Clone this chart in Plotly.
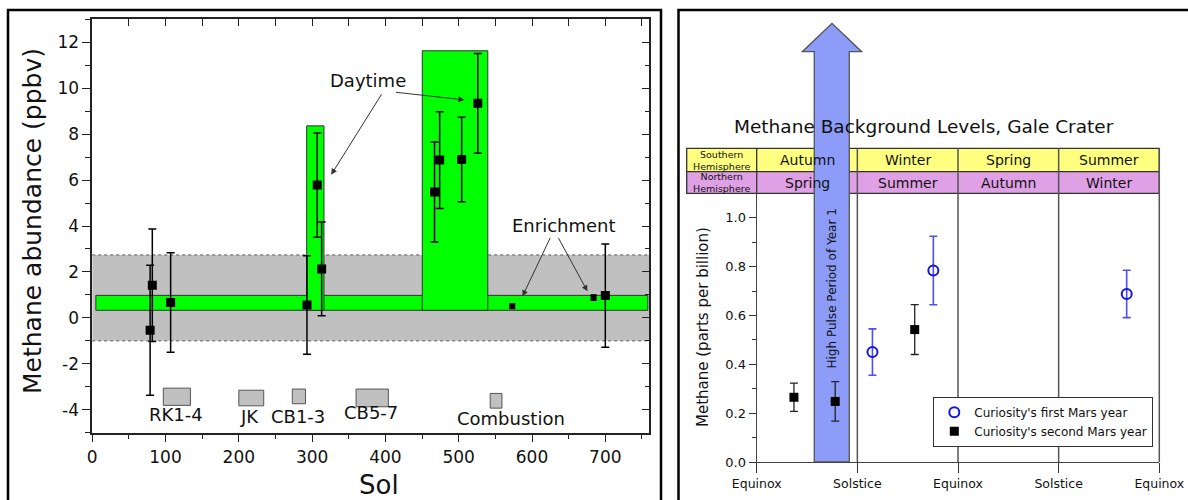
import plotly.graph_objects as go

W, H = 1188, 500
FONT = "DejaVu Sans"

# ---------------- Left panel: methane abundance vs. sol ----------------
sol = [79, 82, 107, 293, 307, 313, 467, 474, 504, 526, 700]
ppbv = [-0.54, 1.42, 0.67, 0.56, 5.78, 2.13, 5.48, 6.87, 6.90, 9.34, 0.97]
ppbv_err = [2.83, 2.45, 2.17, 2.14, 2.27, 2.04, 2.18, 2.11, 1.84, 2.17, 2.25]

enrich_sol = [573, 684]
enrich_ppbv = [0.51, 0.88]
enrich_err = [0.10, 0.12]

background_range = [-1.0, 2.74]
mean_level = [0.33, 0.98]
mean_sols = [5, 758]
spike_sols = [[292.6, 316.2], [450.3, 539.7]]
spike_tops = [8.36, 11.63]

activity_names = ["RK1-4", "JK", "CB1-3", "CB5-7", "Combustion"]
activity_sols = [[97, 134], [200, 234], [273, 291], [360, 404], [543, 559]]
activity_levels = [[-3.81, -3.06], [-3.83, -3.15], [-3.74, -3.10],
                   [-3.87, -3.10], [-3.93, -3.29]]

ppbv_ticks = [-4, -2, 0, 2, 4, 6, 8, 10, 12]

# ---------------- Right panel: seasonal background levels ----------------
seasons_south = ["Autumn", "Winter", "Spring", "Summer"]
seasons_north = ["Spring", "Summer", "Autumn", "Winter"]
boundary_labels = ["Equinox", "Solstice", "Equinox", "Solstice", "Equinox"]

year1_pos = [1.15, 1.755, 3.676]
year1_ppb = [0.450, 0.784, 0.688]
year1_err = [0.095, 0.140, 0.097]

year2_pos = [0.37, 0.78, 1.57]
year2_ppb = [0.265, 0.248, 0.542]
year2_err = [0.058, 0.081, 0.102]


def px(x):
    return x / W


def py(y):
    return 1 - y / H


X1 = [px(92.2), px(649.3)]
Y1 = [py(432.7), py(19.3)]
X2 = [px(756.7), px(1159.3)]
Y2 = [py(462), py(193.3)]


def season_x(s):
    return X2[0] + s * (X2[1] - X2[0]) / 4


fig = go.Figure()

# left panel data
fig.add_trace(go.Scatter(
    x=sol, y=ppbv, mode="markers", showlegend=False,
    marker=dict(symbol="square", size=9, color="black"),
    error_y=dict(type="data", array=ppbv_err, color="black", thickness=1.5, width=4),
    xaxis="x", yaxis="y"))
fig.add_trace(go.Scatter(
    x=enrich_sol, y=enrich_ppbv, mode="markers", showlegend=False,
    marker=dict(symbol="square", size=6, color="black"),
    error_y=dict(type="data", array=enrich_err, color="black", thickness=1.2, width=3),
    xaxis="x", yaxis="y"))
# carrier for the inward top/right tick axes
fig.add_trace(go.Scatter(
    x=sol[:1], y=ppbv[:1], mode="markers", showlegend=False, hoverinfo="skip",
    marker=dict(opacity=0), xaxis="x3", yaxis="y3"))

# right panel data
fig.add_trace(go.Scatter(
    x=year1_pos, y=year1_ppb, mode="markers", name="Curiosity's first Mars year",
    marker=dict(symbol="circle-open", size=10, color="#1414E6", line=dict(width=2)),
    error_y=dict(type="data", array=year1_err, color="#4F4FEA", thickness=1.6, width=4),
    xaxis="x2", yaxis="y2"))
fig.add_trace(go.Scatter(
    x=year2_pos, y=year2_ppb, mode="markers", name="Curiosity's second Mars year",
    marker=dict(symbol="square", size=9, color="black"),
    error_y=dict(type="data", array=year2_err, color="#222", thickness=1.3, width=4),
    xaxis="x2", yaxis="y2"))

shapes = []
# background band with dashed limits
shapes.append(dict(type="rect", xref="x", yref="y", x0=0, x1=760,
                   y0=background_range[0], y1=background_range[1],
                   fillcolor="#C0C0C0", line=dict(width=0), layer="below"))
for yv in background_range:
    shapes.append(dict(type="line", xref="x", yref="y", x0=0, x1=760, y0=yv, y1=yv,
                       line=dict(color="#555", width=1, dash="3px,3px"), layer="below"))
# mean level band and spike episodes
shapes.append(dict(type="rect", xref="x", yref="y", x0=mean_sols[0], x1=mean_sols[1],
                   y0=mean_level[0], y1=mean_level[1], fillcolor="#00FF00",
                   line=dict(color="#333", width=1), layer="below"))
for (s0, s1), top in zip(spike_sols, spike_tops):
    shapes.append(dict(type="rect", xref="x", yref="y", x0=s0, x1=s1,
                       y0=mean_level[0], y1=top, fillcolor="#00FF00",
                       line=dict(color="#333", width=1), layer="below"))
# sample activity boxes
for (s0, s1), (l0, l1) in zip(activity_sols, activity_levels):
    shapes.append(dict(type="rect", xref="x", yref="y", x0=s0, x1=s1, y0=l0, y1=l1,
                       fillcolor="#C0C0C0", line=dict(color="#555", width=1), layer="below"))

# season table
row_y = [py(148.3), py(171.7), py(193.3)]
tab_left = px(686.7)
for (ya, yb), col in zip([(row_y[0], row_y[1]), (row_y[1], row_y[2])], ["#FFFF80", "#DFA0E6"]):
    shapes.append(dict(type="rect", xref="paper", yref="paper", x0=tab_left, x1=X2[1],
                       y0=yb, y1=ya, fillcolor=col, line=dict(color="#333", width=1.3),
                       layer="below"))
shapes.append(dict(type="line", xref="paper", yref="paper", x0=X2[0], x1=X2[0],
                   y0=row_y[2], y1=row_y[0], line=dict(color="#333", width=1.3), layer="below"))
for s in range(1, 5):
    shapes.append(dict(type="line", xref="paper", yref="paper", x0=season_x(s), x1=season_x(s),
                       y0=Y2[0], y1=row_y[0], line=dict(color="#555", width=1.5), layer="below"))

# high pulse arrow
sl, sr = season_x(0.572), season_x(0.920)
hl, hr, tip = season_x(0.453), season_x(1.043), season_x(0.748)
yb, yh, yt = Y2[0], py(51.7), py(23.3)
path = (f"M {sl},{yb} L {sl},{yh} L {hl},{yh} L {tip},{yt} L {hr},{yh} "
        f"L {sr},{yh} L {sr},{yb} Z")
shapes.append(dict(type="path", xref="paper", yref="paper", path=path,
                   fillcolor="#8C9CF8", line=dict(color="#555", width=1.3), layer="below"))

# panel frames
shapes.append(dict(type="rect", xref="paper", yref="paper", x0=px(8), x1=px(661),
                   y0=-0.05, y1=py(10), line=dict(color="black", width=2.5),
                   fillcolor="rgba(0,0,0,0)", layer="above"))
shapes.append(dict(type="rect", xref="paper", yref="paper", x0=px(678.5), x1=1.05,
                   y0=-0.05, y1=py(10), line=dict(color="black", width=2.5),
                   fillcolor="rgba(0,0,0,0)", layer="above"))

ann = []
TXT = "#111"


def label(x, y, text, size, xref="paper", yref="paper", angle=0):
    return dict(x=x, y=y, xref=xref, yref=yref, text=text, showarrow=False,
                xanchor="center", yanchor="middle", textangle=angle,
                font=dict(family=FONT, size=size, color=TXT))


# activity labels
label_pos = [(114, -4.2), (214, -4.28), (281, -4.28), (380, -4.13), (572, -4.39)]
for name, (lx, ly) in zip(activity_names, label_pos):
    ann.append(label(lx, ly, name, 18, "x", "y"))
# callouts
ann.append(label(375.7, 10.33, "Daytime", 18, "x", "y"))
ann.append(label(643, 4.01, "Enrichment", 18, "x", "y"))
arrows = [((396, 9.8), (326, 6.23)), ((412.3, 9.83), (507.7, 9.49)),
          ((625.8, 3.55), (587, 0.94)), ((634.8, 3.55), (675.6, 1.16))]
for (tx, ty), (hx, hy) in arrows:
    ann.append(dict(x=hx, y=hy, ax=tx, ay=ty, xref="x", yref="y", axref="x", ayref="y",
                    text="", showarrow=True, arrowhead=2, arrowsize=1.2, arrowwidth=1,
                    arrowcolor="#333"))
# left axis titles
ann.append(label(px(33), py(221), "Methane abundance (ppbv)", 25, angle=-90))
ann.append(label(px(379), py(485), "Sol", 26))

# right panel title, table text, labels
ann.append(label(px(924.3), py(126.7), "Methane Background Levels, Gale Crater", 18.5))
lab_x = (tab_left + X2[0]) / 2
for txt, yy in [("Southern<br>Hemisphere", 160), ("Northern<br>Hemisphere", 182.5)]:
    ann.append(label(lab_x, py(yy), txt, 9.5))
for i in range(4):
    cx = season_x(i + 0.5)
    ann.append(label(cx, py(160), seasons_south[i], 14))
    ann.append(label(cx, py(182.5), seasons_north[i], 14))
ann.append(label(season_x(0.748), py(288.5), "High Pulse Period of Year 1", 12, angle=-90))
ann.append(label(px(703), py(327), "Methane (parts per billion)", 15, angle=-90))

tickfont_l = dict(family=FONT, size=17, color=TXT)
tickfont_r = dict(family=FONT, size=12.5, color=TXT)

fig.update_layout(
    width=W, height=H,
    margin=dict(l=0, r=0, t=0, b=0, pad=0, autoexpand=False),
    paper_bgcolor="white", plot_bgcolor="rgba(0,0,0,0)",
    font=dict(family=FONT, color=TXT),
    shapes=shapes, annotations=ann,
    xaxis=dict(domain=X1, anchor="y", range=[0, 760], tick0=0, dtick=100,
               ticks="outside", ticklen=8, tickwidth=1, tickcolor="#222",
               minor=dict(dtick=50, ticks="outside", ticklen=5, tickcolor="#222"),
               showline=True, linecolor="#222", linewidth=1.5, mirror=True,
               showgrid=False, zeroline=False, tickfont=tickfont_l),
    yaxis=dict(domain=Y1, anchor="x", range=[-5, 13], tickvals=ppbv_ticks,
               ticktext=[str(v) for v in ppbv_ticks],
               ticks="outside", ticklen=8, tickwidth=1, tickcolor="#222",
               minor=dict(dtick=1, tick0=0, ticks="outside", ticklen=5, tickcolor="#222"),
               showline=True, linecolor="#222", linewidth=1.5, mirror=True,
               showgrid=False, zeroline=False, tickfont=tickfont_l),
    xaxis3=dict(overlaying="x", side="top", anchor="y3", range=[0, 760], tick0=0, dtick=100,
                ticks="inside", ticklen=7, tickcolor="#222",
                minor=dict(dtick=50, ticks="inside", ticklen=7, tickcolor="#222"),
                showticklabels=False, showline=False, showgrid=False, zeroline=False),
    yaxis3=dict(overlaying="y", side="right", anchor="x3", range=[-5, 13], tick0=0, dtick=2,
                ticks="inside", ticklen=7, tickcolor="#222",
                minor=dict(dtick=1, ticks="inside", ticklen=4, tickcolor="#222"),
                showticklabels=False, showline=False, showgrid=False, zeroline=False),
    xaxis2=dict(domain=X2, anchor="y2", range=[0, 4], tickvals=[0, 1, 2, 3, 4],
                ticktext=boundary_labels, ticks="outside", ticklen=10, tickcolor="#333",
                showline=True, linecolor="#444", linewidth=1.3, showgrid=False,
                zeroline=False, tickfont=tickfont_r),
    yaxis2=dict(domain=Y2, anchor="x2", range=[0, 1.1], tick0=0, dtick=0.2, tickformat=".1f",
                ticks="outside", ticklen=7, tickcolor="#333",
                minor=dict(dtick=0.1, ticks="outside", ticklen=4, tickcolor="#333"),
                showline=True, linecolor="#444", linewidth=1.3, showgrid=False,
                zeroline=False, tickfont=dict(family=FONT, size=13, color=TXT)),
    legend=dict(x=px(933.3), y=py(396.7), xanchor="left", yanchor="top",
                bgcolor="white", bordercolor="#333", borderwidth=1,
                font=dict(family=FONT, size=12, color=TXT), tracegroupgap=0,
                itemwidth=30),
    showlegend=True,
)

fig.write_html("out.html")
